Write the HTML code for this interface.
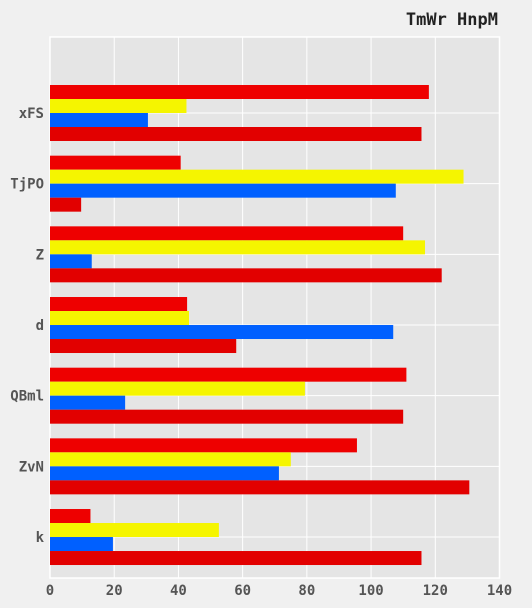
<!DOCTYPE html>
<html><head><meta charset="utf-8"><style>
body{margin:0;background:#f0f0f0;}
svg{display:block;font-family:"DejaVu Sans Mono","Liberation Mono",monospace;}
</style></head><body>
<svg id="chart" width="532" height="608">
<text x="498" y="25" text-anchor="end" font-size="17" font-weight="bold" fill="#222">TmWr HnpM</text>
<rect x="50" y="37" width="449.5" height="541" fill="#e5e5e5" stroke="#fff" stroke-width="1.5"/>
<g id="grid"></g><g id="bars"></g><g id="axes"></g>
</svg>
<script>
const categories=["xFS","TjPO","Z","d","QBml","ZvN","k"];
const series1=[118,40.7,110,42.7,111,95.6,12.6];
const series2=[42.5,128.8,116.8,43.3,79.4,75,52.6];
const series3=[30.5,107.7,13,106.9,23.4,71.3,19.6];
const series4=[115.7,9.7,122,58,110,130.6,115.7];
const xTicks=[0,20,40,60,80,100,120,140];
const colors=["#ee0000","#f5f500","#0060ff","#e20000"];
const names=["series-a","series-b","series-c","series-d"];
const NS="http://www.w3.org/2000/svg";
const x=v=>50+v*(449.5/140);
const y=i=>113+i*70.67;
const bh=14;
function mk(t,a,p){const e=document.createElementNS(NS,t);for(const k in a)e.setAttribute(k,a[k]);p.appendChild(e);return e;}
const grid=document.getElementById('grid'),bars=document.getElementById('bars'),axes=document.getElementById('axes');
xTicks.forEach(t=>{
 const l=mk('line',{x1:x(t),x2:x(t),y1:37,y2:578,stroke:'#fff','stroke-width':1},grid);
 
 
 const tx=mk('text',{x:x(t),y:595,'text-anchor':'middle','font-size':14,'font-weight':'bold',fill:'#555'},axes);
 tx.textContent=t;
 
 
});
const all=[series1,series2,series3,series4];
categories.forEach((c,i)=>{
 const l=mk('line',{x1:50,x2:499.5,y1:y(i),y2:y(i),stroke:'#fff','stroke-width':1},grid);
 
 
 all.forEach((s,j)=>{
  const r=mk('rect',{x:50,y:y(i)-28+j*bh,width:x(s[i])-50,height:bh,fill:colors[j]},bars);
  
  
 });
 const tx=mk('text',{x:44,y:y(i)+5,'text-anchor':'end','font-size':14,'font-weight':'bold',fill:'#555'},axes);
 tx.textContent=c;
 
 
});
</script>
</body></html>
